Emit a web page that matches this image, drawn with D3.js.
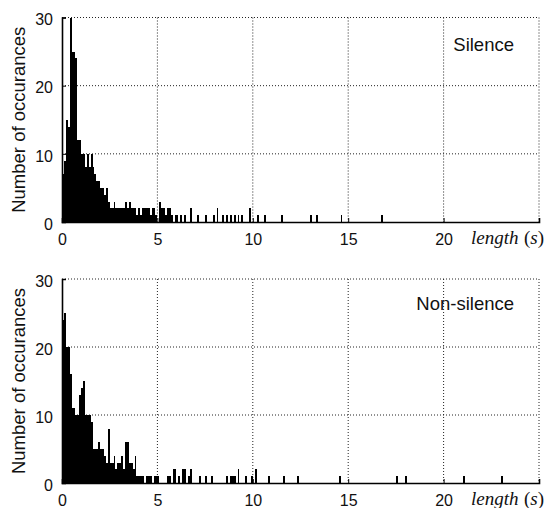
<!DOCTYPE html>
<html>
<head>
<meta charset="utf-8">
<script src="https://cdn.jsdelivr.net/npm/d3@7"></script>
<style>
  html, body { margin: 0; padding: 0; background: #fff; }
  svg { display: block; }
  .tick-label { font-family: "Liberation Sans", Arial, sans-serif; font-size: 16px; fill: #111; }
  .y-title { font-family: "Liberation Sans", Arial, sans-serif; font-size: 18.5px; fill: #111; }
  .panel-title { font-family: "Liberation Sans", Arial, sans-serif; font-size: 18.5px; fill: #111; }
  .x-title { font-family: "Liberation Serif", "Times New Roman", serif; font-size: 19px; fill: #111; }
</style>
</head>
<body>
<svg id="chart" width="558" height="508"></svg>
<script>
// Histogram bin width in seconds
const binWidth = 0.1;
const xTicks = [0, 5, 10, 15, 20];
const xGrid = [5, 10, 15, 20, 25];
const yTicks = [0, 10, 20, 30];
const yGrid = [10, 20, 30];

// Silence segments: counts for consecutive 0.1 s bins starting at 0 s
const silenceHead = [
  7, 9, 15, 14, 30, 25, 25, 24, 12, 12,
  10, 10, 8, 10, 8, 10, 8, 7, 6, 6,
  5, 5, 4, 5, 3, 2, 2, 3, 2, 2,
  2, 2, 2, 3, 2, 3, 2, 2, 2, 1,
  2, 1, 2, 2, 2, 2, 1, 2, 2, 1
];
// Silence segments: sparse tail (bin start in s, count)
const silenceTailStart = [5.1, 5.2, 5.3, 5.4, 5.5, 5.6, 5.7, 5.9, 6.0, 6.2, 6.4, 6.7, 7.1, 7.5, 7.9, 8.1, 8.4, 8.6, 8.8, 9.0, 9.2, 9.4, 9.8, 10.2, 10.6, 11.5, 13.0, 13.3, 14.6, 16.7];
const silenceTailCount = [3, 2, 2, 1, 2, 2, 1, 1, 1, 1, 1, 2, 1, 1, 1, 2, 1, 1, 1, 1, 1, 1, 2, 1, 1, 1, 1, 1, 1, 1];

// Non-silence segments: counts for consecutive 0.1 s bins starting at 0 s
const nonSilenceHead = [
  24, 25, 20, 20, 16, 11, 11, 10, 10, 13,
  14, 15, 10, 10, 10, 9, 5, 5, 5, 6,
  5, 5, 4, 3, 8, 3, 3, 4, 2, 3,
  3, 4, 2, 6, 6, 3, 3, 2, 4, 1,
  1, 1, 1, 0, 1, 1, 1, 0, 1, 1
];
// Non-silence segments: sparse tail (bin start in s, count)
const nonSilenceTailStart = [5.0, 5.5, 5.6, 5.8, 5.9, 6.1, 6.3, 6.4, 6.6, 6.7, 7.2, 7.5, 7.8, 8.6, 8.8, 8.9, 9.0, 9.2, 9.6, 9.9, 10.1, 10.8, 11.6, 12.3, 14.5, 17.5, 18.0, 21.0, 23.0];
const nonSilenceTailCount = [1, 1, 1, 2, 2, 1, 2, 2, 1, 2, 1, 1, 1, 1, 1, 1, 1, 2, 1, 1, 2, 1, 1, 1, 1, 1, 1, 1, 1];

const panelTitles = ["Silence", "Non-silence"];
const yTitle = "Number of occurances";

function toBins(head, tailStart, tailCount) {
  const bins = head.map((c, i) => ({ x0: i * binWidth, count: c }));
  tailStart.forEach((s, i) => bins.push({ x0: s, count: tailCount[i] }));
  return bins.filter(b => b.count > 0);
}

const series = [
  toBins(silenceHead, silenceTailStart, silenceTailCount),
  toBins(nonSilenceHead, nonSilenceTailStart, nonSilenceTailCount)
];

const svg = d3.select("#chart");
svg.append("rect").attr("width", 558).attr("height", 508).attr("fill", "#fff");

const panels = [
  { top: 17.5, bottom: 222, titleY: 50.5 },
  { top: 279, bottom: 483, titleY: 310 }
];
const left = 62, right = 539;

const x = d3.scaleLinear().domain([0, 25]).range([left, right]);

panels.forEach((p, k) => {
  const y = d3.scaleLinear().domain([0, 30]).range([p.bottom, p.top]);
  const g = svg.append("g");

  // dotted grid
  g.selectAll(".vgrid").data(xGrid).join("line")
    .attr("x1", d => x(d)).attr("x2", d => x(d))
    .attr("y1", p.top).attr("y2", p.bottom)
    .attr("stroke", "#222").attr("stroke-width", 1).attr("stroke-dasharray", "1,2");
  g.selectAll(".hgrid").data(yGrid).join("line")
    .attr("x1", left).attr("x2", right)
    .attr("y1", d => y(d)).attr("y2", d => y(d))
    .attr("stroke", "#222").attr("stroke-width", 1).attr("stroke-dasharray", "1,2");

  // histogram bars, snapped to whole pixels so adjacent bins join up
  g.selectAll(".bar").data(series[k]).join("rect")
    .attr("shape-rendering", "crispEdges")
    .attr("x", d => Math.round(x(d.x0)))
    .attr("width", d => Math.max(1, Math.round(x(d.x0 + binWidth)) - Math.round(x(d.x0))))
    .attr("y", d => Math.round(y(d.count)))
    .attr("height", d => Math.round(y(0)) - Math.round(y(d.count)))
    .attr("fill", "#000");

  // x axis (ticks pointing inward)
  const xAxis = d3.axisBottom(x).tickValues(xTicks).tickSize(-4).tickPadding(8).tickFormat(d3.format("d"));
  const gx = g.append("g").attr("transform", `translate(0,${p.bottom})`).call(xAxis);
  gx.select(".domain").attr("stroke", "#000").attr("stroke-width", 1.6);
  gx.selectAll(".tick line").attr("stroke", "#000");
  gx.selectAll(".tick text").attr("class", "tick-label").attr("font-family", null).attr("font-size", null)
    .attr("y", 9).attr("dy", "0.85em");

  // y axis (ticks pointing inward)
  const yAxis = d3.axisLeft(y).tickValues(yTicks).tickSize(-4).tickPadding(9).tickFormat(d3.format("d"));
  const gy = g.append("g").attr("transform", `translate(${left},0)`).call(yAxis);
  gy.select(".domain").attr("stroke", "#000").attr("stroke-width", 1.6);
  gy.selectAll(".tick line").attr("stroke", "#000");
  gy.selectAll(".tick text").attr("class", "tick-label").attr("font-family", null).attr("font-size", null)
    .attr("dy", "0.45em");

  // axis titles
  svg.append("text").attr("class", "y-title")
    .attr("transform", `translate(25,${(p.top + p.bottom) / 2}) rotate(-90)`)
    .attr("text-anchor", "middle").text(yTitle);

  const xt = svg.append("text").attr("class", "x-title")
    .attr("x", 471).attr("y", p.bottom + 22);
  xt.append("tspan").attr("font-style", "italic").text("length");
  xt.append("tspan").attr("x", 524).text("(");
  xt.append("tspan").attr("font-style", "italic").text("s");
  xt.append("tspan").text(")");

  svg.append("text").attr("class", "panel-title")
    .attr("x", 514).attr("y", p.titleY).attr("text-anchor", "end")
    .text(panelTitles[k]);
});
</script>
</body>
</html>
